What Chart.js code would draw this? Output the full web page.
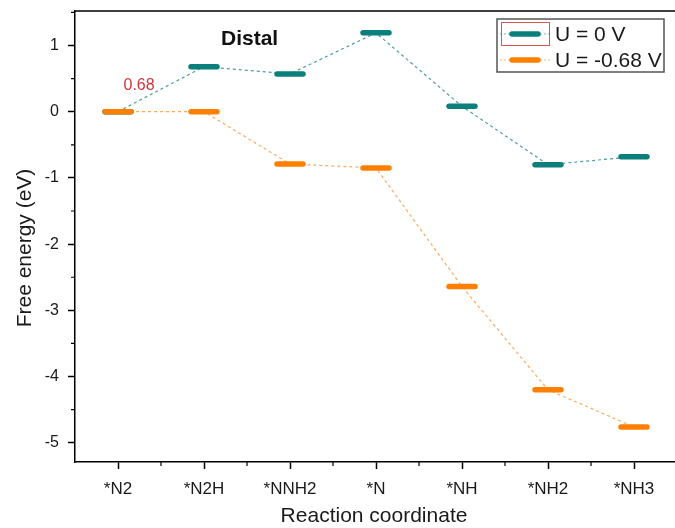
<!DOCTYPE html>
<html>
<head>
<meta charset="utf-8">
<script src="https://cdn.jsdelivr.net/npm/chart.js@4.4.1/dist/chart.umd.min.js"></script>
<style>
html, body { margin: 0; padding: 0; overflow: hidden; background: #fff; }
</style>
</head>
<body>
<canvas id="c" width="680" height="528"></canvas>
<script>
const steps = ['*N2', '*N2H', '*NNH2', '*N', '*NH', '*NH2', '*NH3'];
const energyU0 = [0, 0.68, 0.57, 1.19, 0.08, -0.80, -0.68];
const energyUneg = [0, 0, -0.79, -0.85, -2.64, -4.20, -4.76];
const yTicks = [-5, -4, -3, -2, -1, 0, 1];

const FONT = "'Liberation Sans', Arial, sans-serif";
const TEAL = '#0b7f7b';
const ORANGE = '#ff8000';

const toPoints = arr => arr.map((v, i) => ({ x: i, y: v }));

// level bars get round ends
const roundCaps = {
    id: 'roundCaps',
    beforeDatasetsDraw(chart) { chart.ctx.lineCap = 'round'; },
    afterDatasetsDraw(chart) { chart.ctx.lineCap = 'butt'; }
};

const extras = {
    id: 'extras',
    afterDraw(chart) {
        const { ctx, chartArea: a, scales: { x, y } } = chart;
        ctx.save();
        ctx.strokeStyle = '#000';
        ctx.lineWidth = 1.5;
        // frame top and right
        ctx.beginPath();
        ctx.moveTo(a.left, a.top);
        ctx.lineTo(a.right, a.top);
        ctx.lineTo(a.right, a.bottom);
        ctx.stroke();
        // minor ticks
        ctx.lineWidth = 1.2;
        ctx.beginPath();
        for (let i = 0; i < steps.length; i++) {
            const px = x.getPixelForValue(i + 0.5);
            ctx.moveTo(px, a.bottom);
            ctx.lineTo(px, a.bottom + 4);
        }
        for (let v = -4.5; v <= 1.5; v += 1) {
            const py = y.getPixelForValue(v);
            ctx.moveTo(a.left, py);
            ctx.lineTo(a.left - 4, py);
        }
        ctx.stroke();

        // axis titles
        ctx.fillStyle = '#1a1a1a';
        ctx.font = '21px ' + FONT;
        ctx.textAlign = 'center';
        ctx.textBaseline = 'middle';
        ctx.fillText('Reaction coordinate', (a.left + a.right) / 2 - 2, 516);
        ctx.save();
        ctx.translate(25, 248);
        ctx.rotate(-Math.PI / 2);
        ctx.fillText('Free energy (eV)', 0, 0);
        ctx.restore();

        // annotations
        ctx.font = 'bold 21px ' + FONT;
        ctx.fillStyle = '#111';
        ctx.fillText('Distal', x.getPixelForValue(1.53), y.getPixelForValue(1.10));
        ctx.font = '16px ' + FONT;
        ctx.fillStyle = '#d0343a';
        ctx.fillText('0.68', x.getPixelForValue(0.245), y.getPixelForValue(0.39));

        // legend
        ctx.strokeStyle = '#555';
        ctx.lineWidth = 1.5;
        ctx.fillStyle = '#fff';
        ctx.fillRect(497, 19, 167, 53);
        ctx.strokeRect(497, 19, 167, 53);
        ctx.strokeStyle = '#d9534f';
        ctx.lineWidth = 1;
        ctx.strokeRect(501.5, 22.5, 48, 23);
        const rows = [
            { label: 'U = 0 V', color: TEAL, y: 34 },
            { label: 'U = -0.68 V', color: ORANGE, y: 60 }
        ];
        ctx.font = '21px ' + FONT;
        ctx.textAlign = 'left';
        for (const r of rows) {
            ctx.strokeStyle = r.color;
            ctx.globalAlpha = 0.55;
            ctx.lineWidth = 1;
            ctx.setLineDash([2, 2]);
            ctx.beginPath();
            ctx.moveTo(500, r.y);
            ctx.lineTo(550, r.y);
            ctx.stroke();
            ctx.setLineDash([]);
            ctx.globalAlpha = 1;
            ctx.lineWidth = 5.5;
            ctx.lineCap = 'round';
            ctx.beginPath();
            ctx.moveTo(512, r.y);
            ctx.lineTo(538, r.y);
            ctx.stroke();
            ctx.lineCap = 'butt';
            ctx.fillStyle = '#1a1a1a';
            ctx.fillText(r.label, 555, r.y + 1);
        }
        ctx.restore();
    }
};

const levelStyle = color => ({
    pointStyle: 'line',
    pointRadius: 13,
    pointBorderWidth: 5.5,
    pointBorderColor: color,
    pointBackgroundColor: color
});

new Chart(document.getElementById('c').getContext('2d'), {
    type: 'line',
    data: {
        datasets: [{
            label: 'U = -0.68 V',
            data: toPoints(energyUneg),
            borderColor: 'rgba(255,140,40,0.75)',
            borderWidth: 1.2,
            borderDash: [3, 3],
            ...levelStyle(ORANGE),
            order: 0
        }, {
            label: 'U = 0 V',
            data: toPoints(energyU0),
            borderColor: 'rgba(20,125,125,0.75)',
            borderWidth: 1.2,
            borderDash: [3, 3],
            ...levelStyle(TEAL),
            order: 1
        }]
    },
    options: {
        responsive: false,
        animation: false,
        devicePixelRatio: 1,
        layout: { autoPadding: false, padding: { top: 11, right: 3, left: 0, bottom: 0 } },
        plugins: { legend: { display: false }, tooltip: { enabled: false } },
        scales: {
            x: {
                type: 'linear',
                min: -0.5,
                max: 6.5,
                afterBuildTicks: s => { s.ticks = steps.map((_, i) => ({ value: i })); },
                afterFit: s => { s.height = 66; s.paddingLeft = 0; s.paddingRight = 0; },
                ticks: {
                    callback: v => steps[v],
                    font: { family: FONT, size: 17 },
                    color: '#1a1a1a',
                    padding: 10,
                    maxRotation: 0,
                    autoSkip: false
                },
                grid: { drawOnChartArea: false, tickLength: 7, color: '#000', tickWidth: 1.5 },
                border: { color: '#000', width: 1.5 }
            },
            y: {
                min: -5.29,
                max: 1.52,
                afterBuildTicks: s => { s.ticks = yTicks.map(v => ({ value: v })); },
                afterFit: s => { s.width = 75; s.paddingTop = 0; s.paddingBottom = 0; },
                ticks: {
                    font: { family: FONT, size: 16 },
                    color: '#1a1a1a',
                    padding: 9
                },
                grid: { drawOnChartArea: false, tickLength: 7, color: '#000', tickWidth: 1.5 },
                border: { color: '#000', width: 1.5 }
            }
        }
    },
    plugins: [roundCaps, extras]
});
</script>
</body>
</html>
